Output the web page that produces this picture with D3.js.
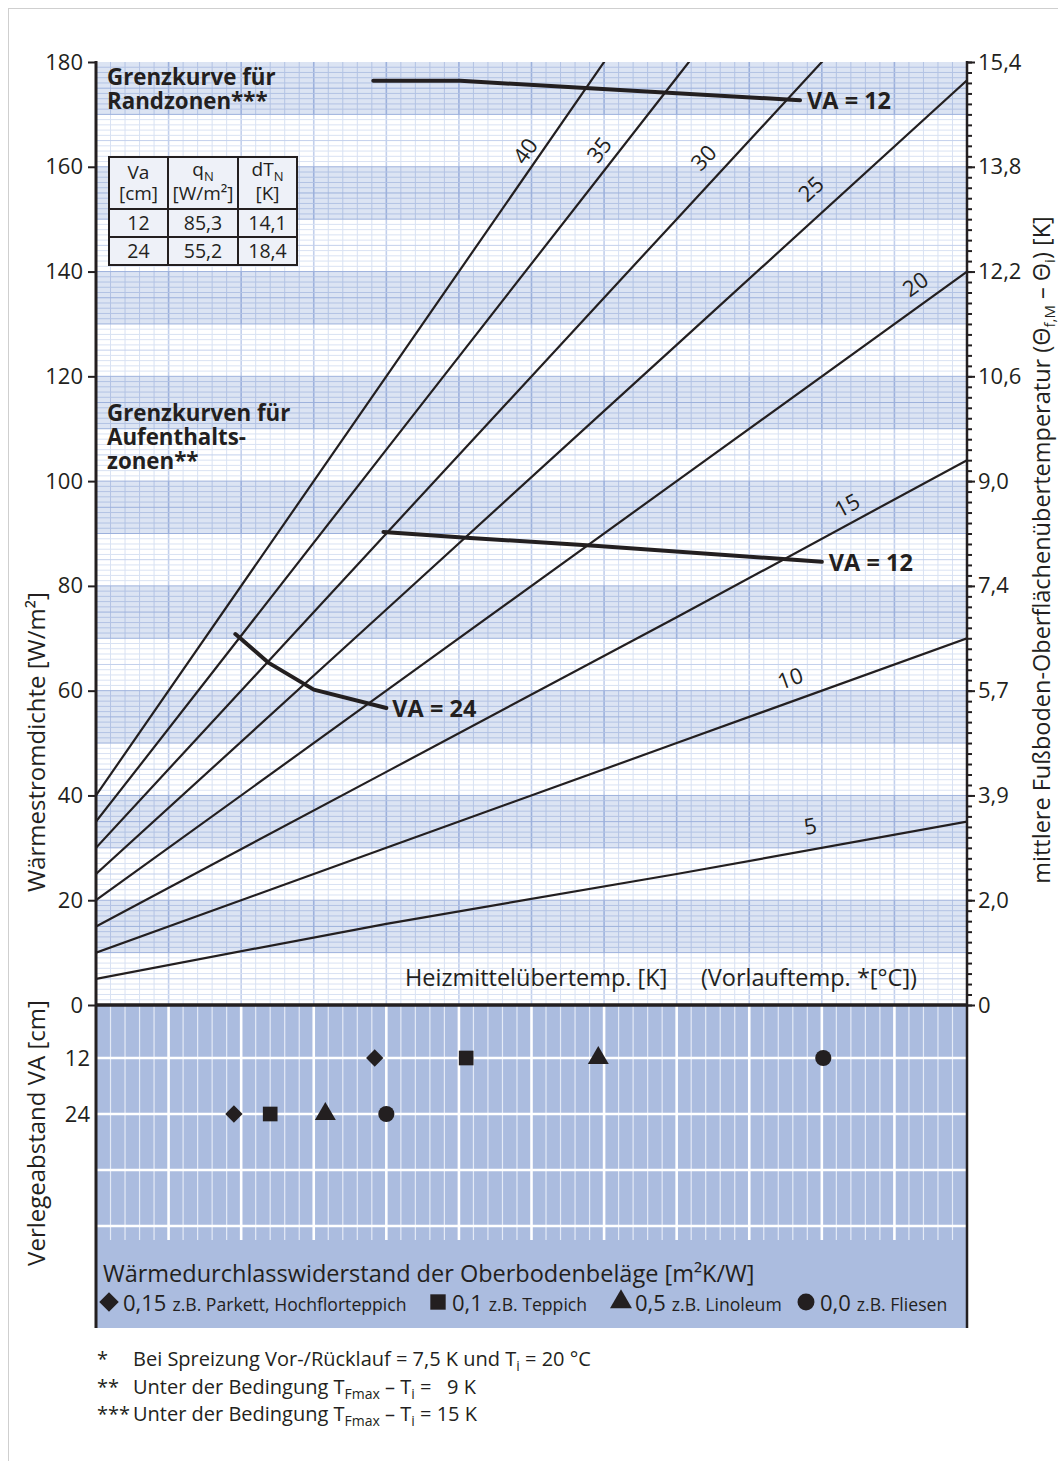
<!DOCTYPE html>
<html>
<head>
<meta charset="utf-8">
<script src="https://cdn.jsdelivr.net/npm/d3@7"></script>
<style>
body { margin:0; background:#fff; }
text { fill:#231f20; }
</style>
</head>
<body>
<script>
var xSteps = [0, 20, 40, 60];
var ueberTemps = [5, 10, 15, 20, 25, 30, 35, 40];
var q5  = [5, 15.5, 25, 35];
var q10 = [10, 30, 50, 70];
var q15 = [15, 44.5, 74, 104];
var q20 = [20, 60, 100, 140];
var q25 = [25, 75.5, 126, 176.5];
var q30 = [30, 90, 150, 210];
var q35 = [35, 106, 177, 248];
var q40 = [40, 120, 200, 280];
var qLines = [q5, q10, q15, q20, q25, q30, q35, q40];

var leftTicks = [0, 20, 40, 60, 80, 100, 120, 140, 160, 180];
var rightLabels = ["0", "2,0", "3,9", "5,7", "7,4", "9,0", "10,6", "12,2", "13,8", "15,4"];

// Grenzkurven
var randX12 = [19.1, 25.1, 34.6, 48.5];
var randQ12 = [176.4, 176.4, 174.9, 172.7];
var aufX12 = [19.8, 25.5, 34.6, 50.0];
var aufQ12 = [90.3, 89.2, 87.6, 84.6];
var aufX24 = [9.6, 11.9, 15.0, 20.0];
var aufQ24 = [70.8, 65.3, 60.2, 56.7];

// Oberbodenbelaege
var belagR = ["0,15", "0,1", "0,5", "0,0"];
var belagText = ["z.B. Parkett, Hochflorteppich", "z.B. Teppich", "z.B. Linoleum", "z.B. Fliesen"];
var belagShape = ["diamond", "square", "triangle", "circle"];
var markX12 = [19.2, 25.5, 34.6, 50.1];
var markX24 = [9.5, 12.0, 15.8, 20.0];
var vaTicks = [12, 24];

var tabRows = [["12", "85,3", "14,1"], ["24", "55,2", "18,4"]];

var W = 1058, H = 1461;
var font = '"Open Sans", "Noto Sans", sans-serif';
var svg = d3.select("body").append("svg")
    .attr("width", W).attr("height", H)
    .style("font-family", font);

var x = d3.scaleLinear().domain([0, 60]).range([96, 967]);
var y = d3.scaleLinear().domain([0, 180]).range([1005, 62]);
var yVA = d3.scaleLinear().domain([0, 48]).range([1002, 1226]);
var ink = "#231f20";

// Rahmen
svg.append("line").attr("x1", 8).attr("x2", W).attr("y1", 8.5).attr("y2", 8.5).attr("stroke", "#cfcfcf");
svg.append("line").attr("x1", 8.5).attr("x2", 8.5).attr("y1", 8).attr("y2", H).attr("stroke", "#cfcfcf");

// Hintergrundbaender
var bands = d3.range(0, 180, 10);
var isBlue = function(b) { return (b / 10) % 2 === 1; };
svg.selectAll("rect.band").data(bands).enter().append("rect")
    .attr("x", x(0)).attr("width", x(60) - x(0))
    .attr("y", function(b) { return y(b + 10); })
    .attr("height", function(b) { return y(b) - y(b + 10); })
    .attr("fill", function(b) { return isBlue(b) ? "#dce4f3" : "#ffffff"; });

// senkrechte Gitterlinien pro Band
bands.forEach(function(b) {
  svg.append("g").selectAll("line").data(d3.range(1, 60)).enter().append("line")
      .attr("x1", function(u) { return x(u); }).attr("x2", function(u) { return x(u); })
      .attr("y1", y(b + 10)).attr("y2", y(b))
      .attr("stroke", function(u) {
        if (isBlue(b)) return u % 5 === 0 ? "#9db1dc" : "#b3c3e4";
        return u % 5 === 0 ? "#c3d0ec" : "#d9e2f3";
      })
      .attr("stroke-width", function(u) { return u % 5 === 0 ? 1.6 : 1; });
});
// waagerechte Gitterlinien
svg.append("g").selectAll("line").data(d3.range(1, 180)).enter().append("line")
    .attr("x1", x(0)).attr("x2", x(60))
    .attr("y1", function(v) { return y(v); }).attr("y2", function(v) { return y(v); })
    .attr("stroke", function(v) {
      var blue = isBlue(Math.floor(v / 10) * 10) || (v % 10 === 0 && isBlue(v - 10));
      if (blue) return v % 5 === 0 ? "#9db1dc" : "#b3c3e4";
      return v % 5 === 0 ? "#c3d0ec" : "#d9e2f3";
    })
    .attr("stroke-width", 1);

// unteres Feld
svg.append("rect").attr("x", x(0)).attr("y", y(0)).attr("width", x(60) - x(0)).attr("height", 1328 - y(0))
    .attr("fill", "#abbcdf");
svg.append("g").selectAll("line").data(d3.range(1, 60)).enter().append("line")
    .attr("x1", function(u) { return x(u); }).attr("x2", function(u) { return x(u); })
    .attr("y1", y(0)).attr("y2", 1240)
    .attr("stroke", function(u) { return u % 5 === 0 ? "#ffffff" : "#e4eaf6"; })
    .attr("stroke-width", function(u) { return u % 5 === 0 ? 2.6 : 1.2; });
svg.append("g").selectAll("line").data([12, 24, 36, 48]).enter().append("line")
    .attr("x1", x(0)).attr("x2", x(60))
    .attr("y1", function(v) { return yVA(v); }).attr("y2", function(v) { return yVA(v); })
    .attr("stroke", "#ffffff").attr("stroke-width", 2.6);

// Kennlinien
svg.append("clipPath").attr("id", "plotclip").append("rect")
    .attr("x", x(0)).attr("y", y(180)).attr("width", x(60) - x(0)).attr("height", y(0) - y(180));
var kLine = d3.line()
    .x(function(d, i) { return x(xSteps[i]); })
    .y(function(d) { return y(d); });
svg.append("g").attr("clip-path", "url(#plotclip)")
  .selectAll("path").data(qLines).enter().append("path")
    .attr("d", kLine).attr("fill", "none").attr("stroke", ink).attr("stroke-width", 2.2);

// Beschriftung der Kennlinien
var labelU = [49.2, 47.8, 51.7, 56.4, 49.2, 41.8, 34.6, 29.5];
var labelGap = [25, 25, 21, 26, 35, 34, 29, 27];
function qAt(vals, u) {
  var i = Math.min(Math.floor(u / 20), 2);
  var t = (u - xSteps[i]) / (xSteps[i + 1] - xSteps[i]);
  return vals[i] + t * (vals[i + 1] - vals[i]);
}
svg.append("g").selectAll("text").data(ueberTemps).enter().append("text")
    .attr("transform", function(d, i) {
      var vals = qLines[i], u = labelU[i];
      var ang = Math.atan2(y(qAt(vals, u + 1)) - y(qAt(vals, u - 1)), x(u + 1) - x(u - 1)) * 180 / Math.PI;
      return "translate(" + x(u) + "," + (y(qAt(vals, u)) - labelGap[i]) + ") rotate(" + ang + ")";
    })
    .attr("text-anchor", "middle").attr("dominant-baseline", "central")
    .style("font-size", "22px")
    .text(function(d) { return d; });

// Grenzkurven
var gLine = d3.line().x(function(d) { return x(d[0]); }).y(function(d) { return y(d[1]); });
[[randX12, randQ12], [aufX12, aufQ12], [aufX24, aufQ24]].forEach(function(c) {
  svg.append("path").datum(d3.zip(c[0], c[1])).attr("d", gLine)
      .attr("fill", "none").attr("stroke", ink).attr("stroke-width", 4)
      .attr("stroke-linecap", "round").attr("stroke-linejoin", "round");
});
function curveLabel(xs, qs, txt, dx) {
  var n = xs.length - 1;
  svg.append("text").attr("x", x(xs[n]) + dx).attr("y", y(qs[n]))
      .attr("dominant-baseline", "central")
      .style("font-size", "23.5px").style("font-weight", "bold").text(txt);
}
curveLabel(randX12, randQ12, "VA = 12", 7);
curveLabel(aufX12, aufQ12, "VA = 12", 7);
curveLabel(aufX24, aufQ24, "VA = 24", 6);

// Achsen
var axL = svg.append("g").attr("transform", "translate(" + x(0) + ",0)")
    .call(d3.axisLeft(y).tickValues(leftTicks).tickSize(8).tickPadding(5));
var axVA = svg.append("g").attr("transform", "translate(" + x(0) + ",0)")
    .call(d3.axisLeft(yVA).tickValues(vaTicks).tickSize(0).tickPadding(6));
var axRmin = svg.append("g").attr("transform", "translate(" + x(60) + ",0)")
    .call(d3.axisRight(y).tickValues(d3.range(0, 181, 2)).tickSize(5).tickFormat(""));
var axR = svg.append("g").attr("transform", "translate(" + x(60) + ",0)")
    .call(d3.axisRight(y).tickValues(leftTicks).tickSize(8).tickPadding(3)
      .tickFormat(function(d, i) { return rightLabels[i]; }));
[axL, axVA, axRmin, axR].forEach(function(a) {
  a.select(".domain").remove();
  a.selectAll("line").attr("stroke", ink).attr("stroke-width", 2);
  a.selectAll("text").style("font-size", "22px").attr("fill", ink).style("font-family", font);
});
svg.append("line").attr("x1", x(0)).attr("x2", x(0)).attr("y1", y(180) - 1).attr("y2", 1328)
    .attr("stroke", ink).attr("stroke-width", 3);
svg.append("line").attr("x1", x(60)).attr("x2", x(60)).attr("y1", y(180) - 1).attr("y2", 1328)
    .attr("stroke", ink).attr("stroke-width", 2.5);
svg.append("line").attr("x1", x(0)).attr("x2", x(60)).attr("y1", y(0)).attr("y2", y(0))
    .attr("stroke", ink).attr("stroke-width", 3.5);

// Text mit tiefgestellten Teilen: parts = [[text, tief?], ...]
function richText(t, parts, subSize) {
  var low = false;
  parts.forEach(function(p) {
    var s = t.append("tspan").text(p[0]);
    if (p[1] && !low) { s.attr("dy", 5).style("font-size", subSize); low = true; }
    else if (p[1]) { s.style("font-size", subSize); }
    else if (low) { s.attr("dy", -5); low = false; }
  });
  return t;
}

// Achsentitel
svg.append("text").attr("transform", "translate(45,742) rotate(-90)")
    .attr("text-anchor", "middle").style("font-size", "24px").text("Wärmestromdichte [W/m²]");
svg.append("text").attr("transform", "translate(45,1133) rotate(-90)")
    .attr("text-anchor", "middle").style("font-size", "24px").text("Verlegeabstand VA [cm]");
richText(svg.append("text").attr("transform", "translate(1050,550) rotate(-90)")
    .attr("text-anchor", "middle").style("font-size", "23.5px"),
  [["mittlere Fußboden-Oberflächenübertemperatur (Θ"], ["f,M", 1], [" – Θ"], ["i", 1], [") [K]"]], "15px");

svg.append("text").attr("x", 405).attr("y", 986).style("font-size", "23.5px").text("Heizmittelübertemp. [K]");
svg.append("text").attr("x", 917).attr("y", 986).attr("text-anchor", "end").style("font-size", "23.5px")
    .text("(Vorlauftemp. *[°C])");

// Blocktexte
function block(lines, x0, y0) {
  lines.forEach(function(t, i) {
    svg.append("text").attr("x", x0).attr("y", y0 + i * 24)
        .style("font-size", "22.3px").style("font-weight", "bold").text(t);
  });
}
block(["Grenzkurve für", "Randzonen***"], 107, 85);
block(["Grenzkurven für", "Aufenthalts-", "zonen**"], 107, 421);

// Tabelle
var tx = [109, 168, 238, 297], ty = [157, 209, 237, 265];
svg.append("rect").attr("x", tx[0]).attr("y", ty[0]).attr("width", tx[3] - tx[0]).attr("height", ty[3] - ty[0])
    .attr("fill", "#eef1f8").attr("stroke", ink).attr("stroke-width", 2);
[tx[1], tx[2]].forEach(function(v) {
  svg.append("line").attr("x1", v).attr("x2", v).attr("y1", ty[0]).attr("y2", ty[3]).attr("stroke", ink).attr("stroke-width", 2);
});
[ty[1], ty[2]].forEach(function(v) {
  svg.append("line").attr("x1", tx[0]).attr("x2", tx[3]).attr("y1", v).attr("y2", v).attr("stroke", ink).attr("stroke-width", 2);
});
function cellText(cx, cy, parts) {
  richText(svg.append("text").attr("x", cx).attr("y", cy).attr("text-anchor", "middle").style("font-size", "19px"),
    parts, "13px");
}
cellText((tx[0] + tx[1]) / 2, 179, [["Va"]]);
cellText((tx[0] + tx[1]) / 2, 200, [["[cm]"]]);
cellText((tx[1] + tx[2]) / 2, 176, [["q"], ["N", 1]]);
cellText((tx[1] + tx[2]) / 2, 200, [["[W/m²]"]]);
cellText((tx[2] + tx[3]) / 2, 176, [["dT"], ["N", 1]]);
cellText((tx[2] + tx[3]) / 2, 200, [["[K]"]]);
tabRows.forEach(function(r, ri) {
  r.forEach(function(v, ci) {
    svg.append("text").attr("x", (tx[ci] + tx[ci + 1]) / 2).attr("y", (ty[ri + 1] + ty[ri + 2]) / 2 + 7)
        .attr("text-anchor", "middle").style("font-size", "19.5px").text(v);
  });
});

// Symbole
function symPath(shape, size) {
  var t = { diamond: d3.symbolSquare, square: d3.symbolSquare, triangle: d3.symbolTriangle, circle: d3.symbolCircle }[shape];
  return d3.symbol().type(t).size(size)();
}
var symSize = { diamond: 150, square: 215, triangle: 190, circle: 205 };
function symRot(shape) { return shape === "diamond" ? " rotate(45)" : ""; }
[[markX12, 12], [markX24, 24]].forEach(function(m) {
  svg.append("g").selectAll("path").data(m[0]).enter().append("path")
      .attr("d", function(d, i) { return symPath(belagShape[i], symSize[belagShape[i]]); })
      .attr("transform", function(d, i) { return "translate(" + x(d) + "," + yVA(m[1]) + ")" + symRot(belagShape[i]); })
      .attr("fill", ink);
});

// Legende
svg.append("text").attr("x", 103).attr("y", 1282).style("font-size", "23.5px")
    .text("Wärmedurchlasswiderstand der Oberbodenbeläge [m²K/W]");
var legX = [109, 438, 621, 806];
belagR.forEach(function(r, i) {
  var sh = belagShape[i];
  svg.append("path").attr("d", symPath(sh, sh === "diamond" ? 190 : symSize[sh] * 1.1))
      .attr("transform", "translate(" + legX[i] + ",1302)" + symRot(sh)).attr("fill", ink);
  var t = svg.append("text").attr("x", legX[i] + 14).attr("y", 1311);
  t.append("tspan").style("font-size", "22px").text(r);
  t.append("tspan").attr("dx", 6).style("font-size", "17.6px").text(belagText[i]);
});

// Fussnoten
var notes = [
  ["*", [["Bei Spreizung Vor-/Rücklauf = 7,5 K und T"], ["i", 1], [" = 20 °C"]]],
  ["**", [["Unter der Bedingung T"], ["Fmax", 1], [" – T"], ["i", 1], [" =   9 K"]]],
  ["***", [["Unter der Bedingung T"], ["Fmax", 1], [" – T"], ["i", 1], [" = 15 K"]]]
];
notes.forEach(function(n, i) {
  var yy = 1366 + i * 27.5;
  svg.append("text").attr("x", 97).attr("y", yy).style("font-size", "20px").text(n[0]);
  richText(svg.append("text").attr("x", 133).attr("y", yy).style("font-size", "20px").style("white-space", "pre"),
    n[1], "14px");
});
</script>
</body>
</html>
